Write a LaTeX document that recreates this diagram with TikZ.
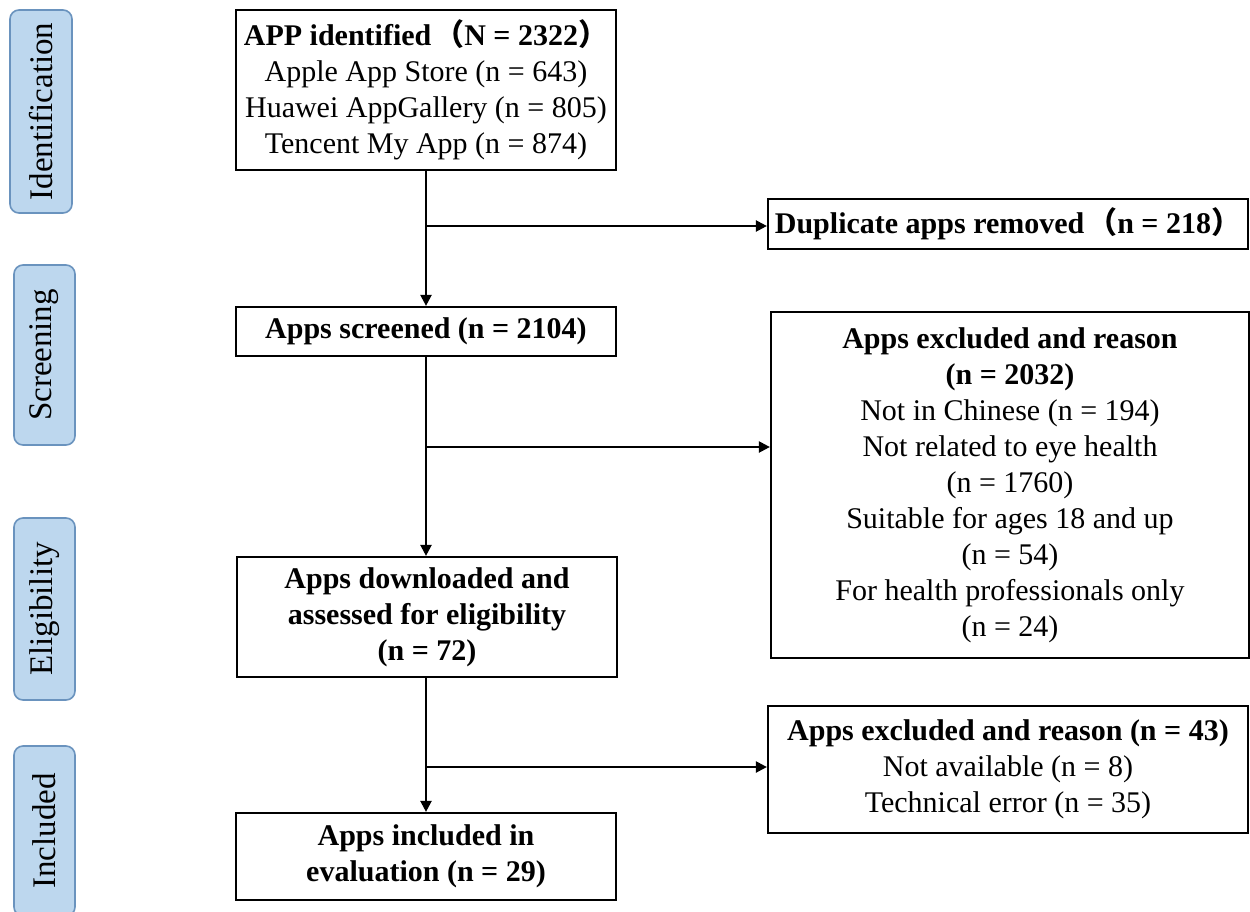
\documentclass[tikz,border=0pt]{standalone}
\usepackage{fontspec}
\setmainfont{Liberation Serif}
\newfontfamily\cjk{Noto Sans CJK SC}
\usetikzlibrary{arrows.meta,positioning}
\newcommand\fwl{{\cjk （}}
\newcommand\fwr{{\cjk ）}}
\definecolor{phasefill}{HTML}{BDD7EE}
\definecolor{phaseline}{HTML}{6A93BE}
\begin{document}
\begin{tikzpicture}[x=1pt,y=1pt,
  box/.style={draw=black,line width=2.2pt,inner sep=0pt,align=center,
    font=\fontsize{30}{36}\selectfont},
  phase/.style={draw=phaseline,fill=phasefill,line width=1.6pt,rounded corners=9pt,
    inner sep=0pt,rotate=90,font=\fontsize{33}{38}\selectfont},
  conn/.style={line width=2.2pt,-{Triangle[length=11pt,width=11pt]}}]
\clip (0,0) rectangle (1250,-911);
\fill[white] (0,0) rectangle (1250,-911);
% phase labels
\node[phase,minimum width=203,minimum height=62] (pid) at (41,-111.5) {Identification};
\node[phase,minimum width=180,minimum height=61] (psc) at (44.5,-355) {Screening};
\node[phase,minimum width=182,minimum height=61] (pel) at (44.5,-609) {Eligibility};
\node[phase,minimum width=170,minimum height=61] (pin) at (44.5,-831) {Included};
% main boxes
\node[box,minimum width=380,minimum height=160] (b1) at (426,-90)
  {\textbf{APP identified\hspace{3pt}\fwl N = 2322\fwr}\\Apple App Store (n = 643)\\Huawei AppGallery (n = 805)\\Tencent My App (n = 874)};
\node[box,minimum width=380,minimum height=49] (b2) at (426,-331.5)
  {\textbf{Apps screened (n = 2104)}};
\node[box,minimum width=380,minimum height=120] (b3) at (427,-617)
  {\textbf{Apps downloaded and}\\\textbf{assessed for eligibility}\\\textbf{(n = 72)}};
\node[box,minimum width=380,minimum height=87] (b4) at (426,-856.5)
  {\textbf{Apps included in}\\\textbf{evaluation (n = 29)}};
% side boxes
\node[box,minimum width=480,minimum height=50] (dup) at (1008,-224)
  {\textbf{Duplicate apps removed\hspace{3pt}\fwl n = 218\fwr}};
\node[box,minimum width=478,minimum height=346] (ex1) at (1010,-485)
  {\textbf{Apps excluded and reason}\\\textbf{(n = 2032)}\\Not in Chinese (n = 194)\\Not related to eye health\\(n = 1760)\\Suitable for ages 18 and up\\(n = 54)\\For health professionals only\\(n = 24)};
\node[box,minimum width=480,minimum height=127] (ex2) at (1008,-769.5)
  {\textbf{Apps excluded and reason (n = 43)}\\Not available (n = 8)\\Technical error (n = 35)};
% junctions
\coordinate (j1) at (426,-226);
\coordinate (j2) at (426,-447);
\coordinate (j3) at (426,-767);
% connectors
\draw[conn] (b1.south) -- (b2.north);
\draw[conn] (b2.south) -- (b3.north -| b2.south);
\draw[conn] (b3.south -| b4.north) -- (b4.north);
\draw[conn] (j1) -- (j1 -| dup.west);
\draw[conn] (j2) -- (j2 -| ex1.west);
\draw[conn] (j3) -- (j3 -| ex2.west);
\end{tikzpicture}
\end{document}
